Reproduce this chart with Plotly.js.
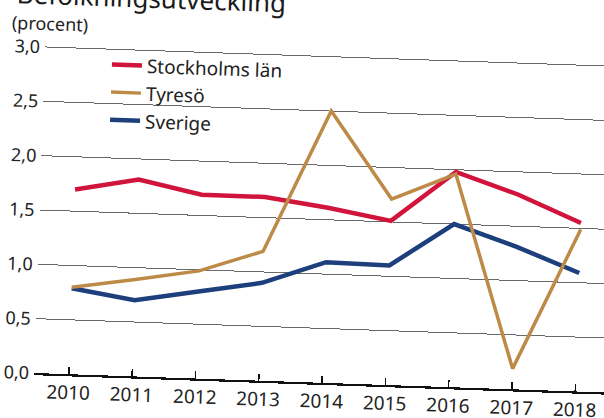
<!DOCTYPE html>
<html>
<head>
<meta charset="utf-8">
<script src="https://cdn.plot.ly/plotly-3.0.1.min.js"></script>
<style>
  html, body { margin: 0; padding: 0; background: #ffffff; }
  #page { position: relative; width: 604px; height: 418px; overflow: hidden; background: #ffffff; }
  #chart {
    position: absolute; left: -40px; top: -40px; width: 700px; height: 480px;
    transform: rotate(1.95deg); transform-origin: 74px 413px;
  }
</style>
</head>
<body>
<div id="page"><div id="chart"></div></div>
<script>
// ---- data ----
const years = [2010, 2011, 2012, 2013, 2014, 2015, 2016, 2017, 2018];
const yearLabels = ["2010", "2011", "2012", "2013", "2014", "2015", "2016", "2017", "2018"];
const stockholmsLan = [1.70, 1.81, 1.69, 1.69, 1.61, 1.51, 1.98, 1.79, 1.55];
const tyreso = [0.80, 0.89, 0.99, 1.19, 2.50, 1.71, 1.96, 0.19, 1.49];
const sverige = [0.79, 0.70, 0.80, 0.90, 1.11, 1.10, 1.50, 1.31, 1.09];
const seriesNames = ["Stockholms län", "Tyresö", "Sverige"];
const yTicks = [0, 0.5, 1.0, 1.5, 2.0, 2.5, 3.0];

const FONT = "Noto Sans, DejaVu Sans, sans-serif";

const traces = [
  { x: years, y: stockholmsLan, name: seriesNames[0], mode: "lines", legendrank: 1,
    line: { color: "#d1143c", width: 4.5 } },
  { x: years, y: sverige, name: seriesNames[2], mode: "lines", legendrank: 3,
    line: { color: "#1d3f7c", width: 4.5 } },
  { x: years, y: tyreso, name: seriesNames[1], mode: "lines", legendrank: 2,
    line: { color: "#bd8a48", width: 3.5 } }
];

const layout = {
  width: 700, height: 480,
  margin: { l: 74, r: 20, t: 65, b: 67, pad: 0 },
  paper_bgcolor: "#ffffff", plot_bgcolor: "#ffffff",
  separators: ", ",
  font: { family: FONT, color: "#222222", size: 18 },
  showlegend: true,
  legend: {
    x: 0.103, y: 0.948, xanchor: "left", yanchor: "top",
    bgcolor: "rgba(0,0,0,0)", borderwidth: 0,
    font: { family: FONT, size: 19, color: "#222222" },
    traceorder: "normal"
  },
  xaxis: {
    range: [2009.4506, 2019.018],
    tickvals: years, ticktext: yearLabels,
    showgrid: false, zeroline: false,
    showline: true, linecolor: "#111111", linewidth: 2.2,
    ticks: "inside", ticklen: 7, tickwidth: 1.5, tickcolor: "#111111",
    ticklabelstandoff: 0,
    tickfont: { family: FONT, size: 19, color: "#222222" },
    fixedrange: true
  },
  yaxis: {
    range: [0, 3.2],
    tickvals: yTicks, tickformat: ".1f",
    showgrid: true, gridcolor: "#6a6a6a", gridwidth: 1,
    zeroline: false, showline: false, ticks: "",
    ticklabelstandoff: 4,
    tickfont: { family: FONT, size: 18, color: "#222222" },
    fixedrange: true
  },
  annotations: [
    { text: "Befolkningsutveckling", xref: "paper", yref: "paper",
      x: -0.052, y: 1.089, xanchor: "left", yanchor: "middle", showarrow: false,
      font: { family: FONT, size: 26, color: "#1a1a1a" } },
    { text: "(procent)", xref: "paper", yref: "paper",
      x: -0.059, y: 1.0057, xanchor: "left", yanchor: "middle", showarrow: false,
      font: { family: FONT, size: 18, color: "#222222" } }
  ]
};

Plotly.newPlot("chart", traces, layout, { staticPlot: true, displayModeBar: false });
</script>
</body>
</html>
